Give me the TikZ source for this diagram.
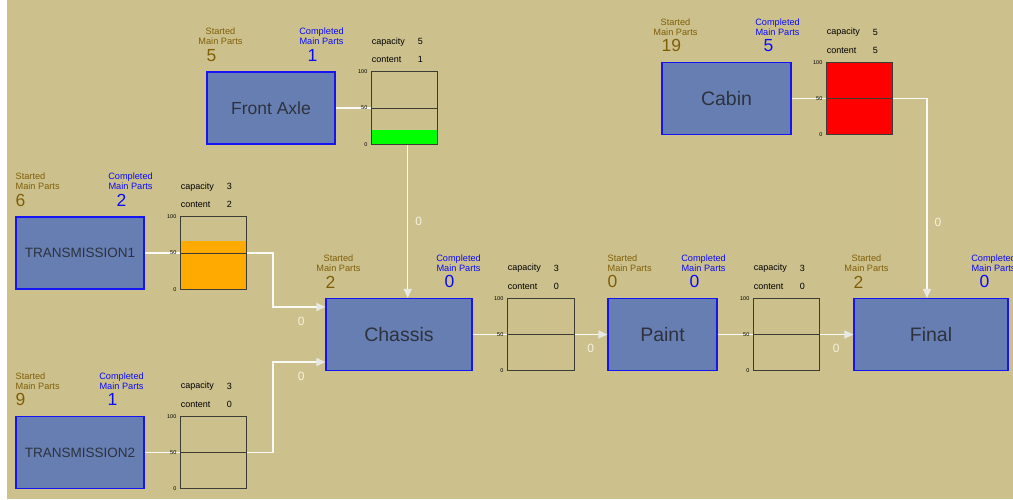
\documentclass[tikz,border=0pt]{standalone}
\usepackage{fontspec}
\setmainfont{Liberation Sans}
\usepackage{xcolor}
\usepackage{tikz}
\usetikzlibrary{positioning,calc,arrows.meta}

\definecolor{panel}{RGB}{204,193,141}
\definecolor{stationfill}{RGB}{103,126,178}
\definecolor{stationedge}{RGB}{20,20,245}
\definecolor{stationtext}{RGB}{45,50,62}
\definecolor{startbrown}{RGB}{128,94,8}
\definecolor{doneblue}{RGB}{10,10,250}
\definecolor{flowwhite}{RGB}{250,250,246}
\definecolor{tipgray}{RGB}{232,232,228}
\definecolor{zerotext}{RGB}{246,241,220}
\definecolor{stockedge}{RGB}{60,60,52}
\definecolor{levelgreen}{RGB}{0,255,0}
\definecolor{levelorange}{RGB}{255,170,0}
\definecolor{levelred}{RGB}{255,0,0}

% counters over a station: node, started, completed, placing of "Started", x of "Completed"
\newcommand{\partcounts}[5]{%
  \node[startlbl, #4] (#1-st) at ($(#1.north west)+(0,-35)$) {Started\\Main Parts};
  \node[startnum, anchor=west] (#1-sv) at ($(#1.north west)+(0,-16)$) {#2};
  \node[donelbl] (#1-dn) at ($(#1.north east)+(#5,-35)$) {Completed\\Main Parts};
  \node[donenum] (#1-dv) at ($(#1.north east)+(#5-9,-16)$) {#3};
}
% buffer gauge: node, colour, level, capacity, content
\newcommand{\stocklevel}[5]{%
  \fill[#2] (#1.south west) rectangle ($(#1.south east)!#3!(#1.north east)$);
  \draw[stockedge, line width=0.8pt] (#1.south west) rectangle (#1.north east);
  \draw[stockedge, line width=0.8pt] (#1.west) -- (#1.east);
  \node[tick] (#1-100) at (#1.north west) {100};
  \node[tick] (#1-50) at (#1.west) {50};
  \node[tick] (#1-0) at (#1.south west) {0};
  \node[stocktxt] (#1-cap) at ($(#1.north west)+(0,-30)$) {capacity};
  \node[stocktxt] (#1-capv) at ($(#1.north west)+(46,-30)$) {#4};
  \node[stocktxt] (#1-con) at ($(#1.north west)+(0,-12)$) {content};
  \node[stocktxt] (#1-conv) at ($(#1.north west)+(46,-12)$) {#5};
}

\begin{document}
\begin{tikzpicture}[x=1pt, y=-1pt,
  station/.style={draw=stationedge, line width=1.1pt, fill=stationfill, text=stationtext,
    minimum height=72pt, inner sep=0pt, font=\fontsize{19.5}{20}\selectfont},
  stock/.style={minimum width=65pt, minimum height=72pt, inner sep=0pt},
  startlbl/.style={text=startbrown, align=center, inner sep=0pt, font=\fontsize{9.2}{9.8}\selectfont},
  donelbl/.style={startlbl, text=doneblue},
  startnum/.style={text=startbrown, inner sep=0pt, font=\fontsize{17.5}{17.5}\selectfont},
  donenum/.style={startnum, text=doneblue},
  stocktxt/.style={anchor=west, inner sep=0pt, font=\fontsize{9}{9}\selectfont},
  tick/.style={anchor=east, inner sep=0pt, xshift=-4pt, font=\fontsize{5.5}{5.5}\selectfont},
  flow/.style={draw=flowwhite, line width=1.2pt},
  feed/.style={flow, -{Triangle[length=9pt, width=8pt, color=tipgray]}},
  zero/.style={text=zerotext, inner sep=0pt, font=\fontsize{12}{12}\selectfont}]

  \clip (0,0) rectangle (1013,499);
  \fill[panel] (0,0) rectangle (1013,499);
  \fill[white] (0,0) rectangle (7,499);

  % stations
  \node[station, minimum width=128pt, font=\fontsize{17.5}{18}\selectfont] (axle) at (271,108) {Front Axle};
  \node[station, minimum width=129pt] (cabin) at (726.5,98.5) {Cabin};
  \node[station, minimum width=128pt, font=\fontsize{13.5}{14}\selectfont] (trans1) at (80,253) {TRANSMISSION1};
  \node[station, minimum width=128pt, font=\fontsize{13.5}{14}\selectfont] (trans2) at (80,452.5) {TRANSMISSION2};
  \node[station, minimum width=146pt] (chassis) at (399,334.5) {Chassis};
  \node[station, minimum width=109pt] (paint) at (662.5,334.5) {Paint};
  \node[station, minimum width=154pt] (final) at (931,334.5) {Final};

  % buffers
  \node[stock, right=36pt of axle] (axlebuf) {};
  \node[stock, right=35pt of cabin] (cabinbuf) {};
  \node[stock, right=36pt of trans1] (trans1buf) {};
  \node[stock, right=36pt of trans2] (trans2buf) {};
  \node[stock, minimum width=66pt, right=35pt of chassis] (chassisbuf) {};
  \node[stock, right=36pt of paint] (paintbuf) {};

  % flows
  \draw[flow] (axle.east) -- (axlebuf.west);
  \draw[feed] ([xshift=3.5pt]axlebuf.south) -- ([xshift=3.5pt]axlebuf.south |- chassis.north)
    node[zero, pos=0.5, right=7pt] (axlezero) {0};
  \draw[flow] (cabin.east) -- (cabinbuf.west);
  \draw[feed] (cabinbuf.east) -| ([xshift=-4pt]final.north)
    node[zero, pos=0.81, right=7pt] (cabinzero) {0};
  \draw[flow] (trans1.east) -- (trans1buf.west);
  \draw[feed] (trans1buf.east) -- ++(27,0) |- ([yshift=-9pt]chassis.north west)
    node[zero, pos=0.77, below=10pt] (trans1zero) {0};
  \draw[flow] (trans2.east) -- (trans2buf.west);
  \draw[feed] (trans2buf.east) -- ++(27,0) |- ([yshift=9pt]chassis.south west)
    node[zero, pos=0.77, below=9pt] (trans2zero) {0};
  \draw[flow] (chassis.east) -- (chassisbuf.west);
  \draw[feed] (chassisbuf.east) -- (paint.west) node[zero, midway, below=9pt] (chassiszero) {0};
  \draw[flow] (paint.east) -- (paintbuf.west);
  \draw[feed] (paintbuf.east) -- (final.west) node[zero, midway, below=9pt] (paintzero) {0};

  \stocklevel{axlebuf}{levelgreen}{0.2}{5}{1}
  \stocklevel{cabinbuf}{levelred}{1}{5}{5}
  \stocklevel{trans1buf}{levelorange}{0.67}{3}{2}
  \stocklevel{trans2buf}{panel}{0}{3}{0}
  \stocklevel{chassisbuf}{panel}{0}{3}{0}
  \stocklevel{paintbuf}{panel}{0}{3}{0}

  \partcounts{axle}{5}{1}{xshift=14pt}{-14}
  \partcounts{cabin}{19}{5}{xshift=14pt}{-14}
  \partcounts{trans1}{6}{2}{anchor=west, align=left}{-14}
  \partcounts{trans2}{9}{1}{anchor=west, align=left}{-23}
  \partcounts{chassis}{2}{0}{xshift=13pt}{-14}
  \partcounts{paint}{0}{0}{anchor=west, align=left}{-14}
  \partcounts{final}{2}{0}{xshift=13pt}{-15}
\end{tikzpicture}
\end{document}
